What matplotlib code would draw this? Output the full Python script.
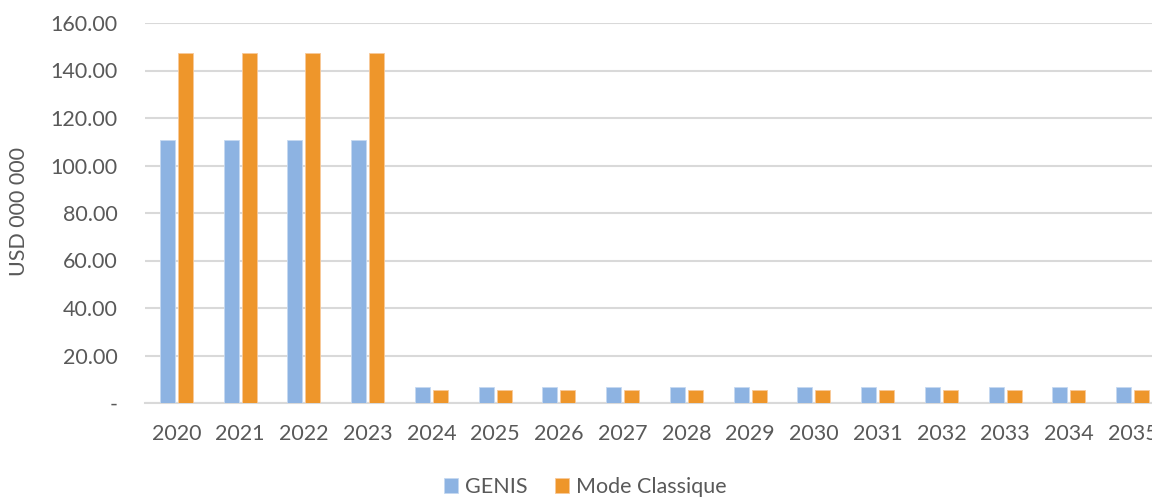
import matplotlib
matplotlib.use("Agg")
import matplotlib.pyplot as plt
import numpy as np
from matplotlib.ticker import FuncFormatter

years = [str(y) for y in range(2020, 2036)]
genis = [110.7, 110.7, 110.7, 110.7] + [6.6] * 12
classique = [147.5, 147.5, 147.5, 147.5] + [5.3] * 12
series_names = ["GENIS", "Mode Classique"]
colors = ["#8DB3E2", "#EE962B"]
yticks = [0, 20, 40, 60, 80, 100, 120, 140, 160]

plt.rcParams['font.family'] = ['Lato', 'DejaVu Sans']
FS = 15.5
fig = plt.figure(figsize=(11.52, 4.97), dpi=100)
ax = fig.add_axes([144.6 / 1152, 94 / 497, (1164.4 - 144.6) / 1152, 380 / 497])

x = np.arange(len(years))
w = 0.235
ax.bar(x - 0.141, genis, width=w, color=colors[0], label=series_names[0],
       edgecolor="#C6D9F1", linewidth=0.6, zorder=3)
ax.bar(x + 0.141, classique, width=w, color=colors[1], label=series_names[1],
       edgecolor="#F8C99A", linewidth=0.6, zorder=3)

ax.set_xlim(-0.5, len(years) - 0.5)
ax.set_ylim(0, 160)
ax.set_yticks(yticks)
ax.yaxis.set_major_formatter(FuncFormatter(lambda v, p: "-" if v == 0 else f"{v:.2f}"))
ax.set_xticks(x)
ax.set_xticklabels(years)
ax.grid(axis='y', color="#D9D9D9", linewidth=1.5, zorder=0)
for s in ['top', 'right', 'left']:
    ax.spines[s].set_visible(False)
ax.spines['bottom'].set_color("#D9D9D9")
ax.spines['bottom'].set_linewidth(1.5)
ax.tick_params(axis='both', length=0, labelsize=FS, colors="#595959")
ax.tick_params(axis='y', pad=19.5)
ax.tick_params(axis='x', pad=15)

fig.text(19 / 1152, (497 - 212) / 497, "USD 000 000", rotation=90, fontsize=FS,
         color="#595959", ha='center', va='center')

fig.legend(loc='center', bbox_to_anchor=(585.5 / 1152, 10 / 497), ncol=2, frameon=False,
           fontsize=FS, labelcolor="#595959", handlelength=0.65, handleheight=0.65,
           handletextpad=0.3, columnspacing=1.3)

fig.savefig("out.png", dpi=100)
